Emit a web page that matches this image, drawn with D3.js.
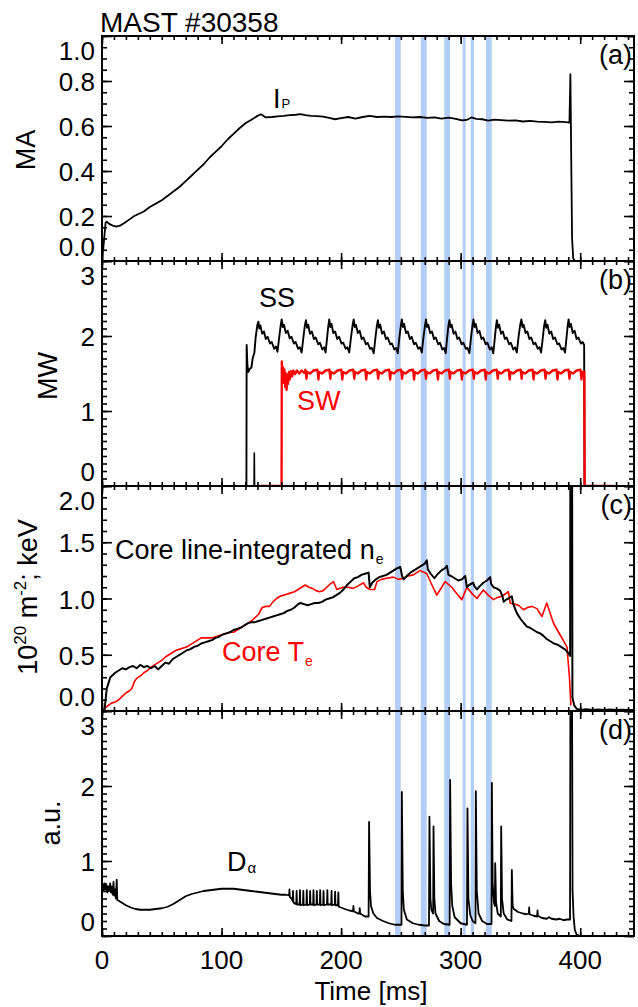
<!DOCTYPE html>
<html><head><meta charset="utf-8">
<script src="https://cdn.jsdelivr.net/npm/d3@7"></script>
<style>
body{margin:0;background:#fff}
svg{display:block}
text{font-family:"Liberation Sans",Arial,Helvetica,sans-serif;fill:#000}
</style>
</head><body>
<svg id="chart" width="638" height="1007"></svg>
<script>
// ---------------- DATA ----------------
const xDomain = [0, 445];
const xTickLabels = ["0", "100", "200", "300", "400"];
const xTickValues = [0, 100, 200, 300, 400];
const title = "MAST #30358";
const xTitle = "Time [ms]";
// highlighted time windows (ms)
const bands = [[245.1,249.9],[266.6,271.6],[286.3,291.1],[301.7,304.2],[308.4,311.2],[321.2,326]];

// (a) plasma current, MA
const ipData = [[0,0],[1.5,0.08],[3,0.17],[4,0.175],[6,0.165],[9,0.157],[12,0.153],[15,0.157],[19,0.17],[23,0.185],[27,0.2],[31,0.21],[35,0.22],[40,0.24],[45,0.255],[50,0.27],[55,0.29],[60,0.31],[65,0.33],[70,0.355],[75,0.38],[80,0.405],[85,0.43],[90,0.46],[95,0.485],[100,0.51],[105,0.54],[110,0.565],[115,0.59],[120,0.612],[125,0.628],[130,0.645],[133,0.652],[137,0.638],[142,0.64],[147,0.643],[152,0.645],[157,0.648],[162,0.65],[166,0.653],[170,0.648],[175,0.645],[180,0.644],[185,0.642],[190,0.636],[195,0.63],[200,0.635],[206,0.64],[212,0.633],[218,0.64],[224,0.645],[230,0.64],[236,0.642],[242,0.64],[248,0.643],[254,0.641],[260,0.638],[266,0.64],[272,0.636],[278,0.638],[284,0.633],[290,0.637],[296,0.632],[301,0.625],[305,0.627],[309,0.638],[313,0.632],[318,0.63],[323,0.624],[328,0.628],[334,0.626],[340,0.624],[346,0.625],[352,0.62],[358,0.623],[364,0.619],[370,0.618],[376,0.616],[382,0.619],[388,0.617],[391,0.615],[391.8,0.83],[392.4,0.5],[393.2,0.1],[394.2,0.01],[396,0],[445,0]];
const ipLabel = ["I", "P"];
const yTicksA = [0, 0.2, 0.4, 0.6, 0.8, 1.0];
const yLabelsA = ["0.0","0.2","0.4","0.6","0.8","1.0"];

// (b) heating power, MW
const ssData = [[0,0],[120.8,0],[121,1.88],[121.6,1.62],[122.3,1.52],[123.5,1.56],[125,1.58],[126,1.7],[127.5,1.78],[128.5,1.98],[130,2.15],[130.8,2.19],[131.6,2.1],[132.5,2.14],[134,2.03],[135.5,2.06],[137,1.96],[138.5,1.99],[140.5,1.9],[142,1.92],[144,1.83],[145.5,1.86],[146.8,1.79],
[148,1.95],[149.3,2.12],[150.3,2.22],[151.2,2.12],[152.2,2.15],[153.8,2.04],[155.3,2.07],[157,1.97],[158.5,1.99],[160.5,1.9],[162,1.92],[164,1.83],[165.5,1.85],[167,1.78],
[168.3,1.96],[169.6,2.13],[170.6,2.21],[171.5,2.11],[172.5,2.15],[174,2.03],[175.5,2.06],[177.3,1.96],[178.8,1.98],[180.8,1.89],[182.3,1.91],[184.3,1.82],[185.8,1.85],[187,1.78],
[188.2,1.96],[189.2,2.12],[190.1,2.22],[191,2.12],[192,2.16],[193.5,2.04],[195,2.06],[196.8,1.96],[198.3,1.99],[200.3,1.9],[201.8,1.91],[203.8,1.83],[205.3,1.85],[206.8,1.78],
[208.2,1.97],[209.5,2.13],[210.5,2.22],[211.4,2.12],[212.4,2.15],[214,2.04],[215.5,2.07],[217.2,1.96],[218.7,1.98],[220.7,1.89],[222.2,1.91],[224.2,1.83],[225.7,1.84],[227.3,1.77],
[228.6,1.96],[229.8,2.12],[230.8,2.21],[231.7,2.11],[232.7,2.15],[234.3,2.03],[235.8,2.06],[237.5,1.96],[239,1.98],[241,1.89],[242.5,1.9],[244.5,1.82],[246,1.84],[247.4,1.77],
[248.7,1.97],[249.9,2.13],[250.8,2.22],[251.7,2.12],[252.7,2.16],[254.3,2.04],[255.8,2.06],[257.5,1.96],[259,1.99],[261,1.89],[262.5,1.91],[264.5,1.83],[266,1.85],[267.5,1.78],
[268.8,1.97],[270,2.12],[271,2.22],[271.9,2.12],[272.9,2.15],[274.5,2.04],[276,2.06],[277.7,1.96],[279.2,1.98],[281.2,1.89],[282.7,1.91],[284.7,1.82],[286.2,1.84],[287.5,1.77],
[288.6,1.96],[289.7,2.13],[290.6,2.21],[291.5,2.12],[292.5,2.15],[294.1,2.03],[295.6,2.06],[297.3,1.96],[298.8,1.98],[300.8,1.89],[302.3,1.91],[304.3,1.83],[305.8,1.84],[307.3,1.77],
[308.6,1.97],[309.8,2.13],[310.7,2.22],[311.6,2.12],[312.6,2.16],[314.2,2.04],[315.7,2.07],[317.4,1.96],[318.9,1.98],[320.9,1.89],[322.4,1.91],[324.4,1.82],[325.9,1.85],[327.3,1.77],
[328.5,1.96],[329.5,2.12],[330.3,2.21],[331.2,2.11],[332.2,2.15],[333.8,2.03],[335.3,2.06],[337,1.96],[338.5,1.98],[340.5,1.89],[342,1.91],[344,1.82],[345.5,1.85],[347,1.78],
[348.3,1.97],[349.6,2.13],[350.8,2.22],[351.7,2.12],[352.7,2.15],[354.3,2.04],[355.8,2.06],[357.5,1.96],[359,1.98],[361,1.89],[362.5,1.91],[364.5,1.83],[366,1.85],[367.3,1.78],
[368.6,1.96],[369.7,2.12],[370.7,2.21],[371.6,2.11],[372.6,2.15],[374.2,2.03],[375.7,2.06],[377.4,1.96],[378.9,1.98],[380.9,1.89],[382.4,1.9],[384.4,1.82],[385.9,1.84],[387.3,1.78],
[388.5,1.97],[389.5,2.13],[390.3,2.22],[391.2,2.12],[392.2,2.16],[393.8,2.04],[395.3,2.07],[397,1.96],[398.5,1.98],[400.5,1.9],[402,1.92],[403.3,1.88],[403.6,0],[445,0]];
const ssBlip = [[127.2,0],[127.4,0.44],[127.6,0]];
const swData = [[131,0],[150.2,0],[150.4,1.66],[151,1.45],[151.5,1.58],[152,1.38],[152.6,1.55],[153.2,1.32],[153.8,1.5],[154.4,1.28],[155,1.48],[155.6,1.36],[156.3,1.52],[157,1.42],[158,1.53],[159,1.46],[160,1.54],[161.5,1.49],[163,1.54],[165,1.5],[167,1.54],[169,1.51],
[170.2,1.55],[171,1.43],[171.7,1.52],[174,1.5],[177,1.54],[180.2,1.55],[181,1.42],[181.7,1.52],[184,1.5],[187,1.54],
[190.2,1.55],[191,1.43],[191.7,1.52],[194,1.5],[197,1.54],[200.2,1.55],[201,1.42],[201.7,1.52],[204,1.5],[207,1.54],
[210.2,1.55],[211,1.43],[211.7,1.52],[214,1.5],[217,1.54],[220.2,1.55],[221,1.42],[221.7,1.52],[224,1.5],[227,1.54],
[230.2,1.55],[231,1.43],[231.7,1.52],[234,1.5],[237,1.54],[240.2,1.55],[241,1.42],[241.7,1.52],[244,1.5],[247,1.54],
[250.2,1.55],[251,1.43],[251.7,1.52],[254,1.5],[257,1.54],[260.2,1.55],[261,1.42],[261.7,1.52],[264,1.5],[267,1.54],
[270.2,1.55],[271,1.43],[271.7,1.52],[274,1.5],[277,1.54],[280.2,1.55],[281,1.42],[281.7,1.52],[284,1.5],[287,1.54],
[290.2,1.55],[291,1.43],[291.7,1.52],[294,1.5],[297,1.54],[300.2,1.55],[301,1.42],[301.7,1.52],[304,1.5],[307,1.54],
[310.2,1.55],[311,1.43],[311.7,1.52],[314,1.5],[317,1.54],[320.2,1.55],[321,1.42],[321.7,1.52],[324,1.5],[327,1.54],
[330.2,1.55],[331,1.43],[331.7,1.52],[334,1.5],[337,1.54],[340.2,1.55],[341,1.42],[341.7,1.52],[344,1.5],[347,1.54],
[350.2,1.55],[351,1.43],[351.7,1.52],[354,1.5],[357,1.54],[360.2,1.55],[361,1.42],[361.7,1.52],[364,1.5],[367,1.54],
[370.2,1.55],[371,1.43],[371.7,1.52],[374,1.5],[377,1.54],[380.2,1.55],[381,1.42],[381.7,1.52],[384,1.5],[387,1.54],
[390.2,1.55],[391,1.43],[391.7,1.52],[394,1.5],[397,1.54],[400.2,1.55],[401,1.42],[401.7,1.52],[403.5,1.52],[403.7,0],[428,0]];
const yTicksB = [0, 1, 2, 3];
const yLabelsB = ["0","1","2","3"];

// (c) core line-integrated density (1e20 m^-2) and core Te (keV)
const neData = [[2,0],[3,0.1],[4,0.2],[5.5,0.25],[7,0.3],[9,0.32],[11,0.34],[14,0.36],[17,0.38],[20,0.37],[23,0.39],[26,0.4],[29,0.38],[32,0.41],[35,0.39],[38,0.4],[41,0.38],[44,0.4],[47,0.37],[50,0.4],[53,0.43],[56,0.42],[59,0.46],[62,0.48],[65,0.5],[68,0.52],[71,0.54],[74,0.55],[77,0.57],[80,0.58],[83,0.6],[86,0.61],[89,0.62],[92,0.63],[95,0.65],[98,0.66],[101,0.68],[104,0.69],[107,0.7],[110,0.72],[113,0.73],[116,0.74],[119,0.76],[122,0.78],[125,0.79],[128,0.79],[131,0.8],[134,0.81],[137,0.82],[140,0.83],[143,0.84],[146,0.85],[149,0.86],[152,0.87],[155,0.89],[158,0.9],[161,0.92],[164,0.95],[166,0.96],[169,0.95],[172,0.94],[175,0.95],[178,0.96],[181,0.96],[184,0.97],[187,0.99],[190,1.0],[193,1.01],[196,1.03],[199,1.05],[202,1.08],[205,1.12],[208,1.15],[211,1.18],[214,1.19],[217,1.21],[220,1.22],[223,1.23],[224,1.1],[226,1.14],[229,1.17],[232,1.19],[235,1.2],[238,1.21],[241,1.23],[244,1.25],[247,1.27],[249.5,1.28],[251,1.2],[252.3,1.17],[255,1.2],[258,1.23],[261,1.25],[264,1.27],[267,1.29],[270,1.31],[271.7,1.34],[272.5,1.26],[275,1.22],[278,1.18],[281,1.22],[284,1.25],[287,1.27],[288.5,1.29],[289.8,1.21],[292,1.2],[295,1.18],[298,1.16],[301,1.17],[303.8,1.2],[305.2,1.1],[307,1.12],[310.5,1.14],[311.5,1.11],[313.6,1.08],[316,1.11],[319,1.14],[322,1.16],[324.7,1.19],[325.5,1.13],[327.5,1.1],[330,1.09],[333,1.07],[335,1.02],[336,0.97],[338,0.99],[340,1.0],[342.8,1.02],[344,0.95],[347,0.87],[350,0.82],[353,0.78],[355.4,0.75],[358,0.74],[361,0.72],[364,0.7],[366.5,0.69],[369,0.67],[372,0.64],[375,0.62],[378,0.6],[381,0.59],[384,0.57],[387,0.55],[389,0.53],[391.6,0.49],[391.8,2.3],[393.2,2.3],[393.5,0.12],[395,0.05],[397,0.02],[400,0.01],[405,0.015],[410,0.008],[415,0.014],[420,0.008],[425,0.013],[430,0.009],[435,0.012],[440,0.008],[445,0.01]];
const teData = [[0.5,0],[4,0.04],[8,0.07],[11,0.08],[14,0.1],[17,0.13],[20,0.16],[23,0.18],[25,0.2],[27,0.26],[29,0.29],[32,0.31],[35,0.34],[38,0.36],[41,0.39],[44,0.41],[47,0.43],[50,0.45],[53,0.48],[56,0.5],[59,0.52],[62,0.54],[65,0.55],[68,0.56],[71,0.57],[74,0.59],[77,0.61],[80,0.63],[83,0.65],[86,0.65],[89,0.65],[92,0.65],[95,0.66],[98,0.67],[101,0.68],[104,0.69],[107,0.7],[110,0.7],[113,0.72],[116,0.74],[119,0.76],[122,0.78],[125,0.8],[128,0.83],[131,0.86],[134,0.92],[137,0.93],[140,0.93],[143,0.97],[146,1.0],[149,1.02],[152,1.03],[155,1.04],[158,1.05],[161,1.06],[164,1.08],[167,1.1],[170,1.12],[173,1.1],[176,1.09],[179,1.07],[182,1.06],[185,1.07],[188,1.1],[191,1.13],[193.6,1.15],[196.4,1.08],[199,1.09],[202,1.1],[206,1.1],[210,1.09],[214,1.11],[218.7,1.14],[221,1.1],[224,1.08],[228,1.08],[230,1.15],[234,1.17],[238,1.18],[243.8,1.19],[248,1.17],[252,1.18],[256,1.2],[260.5,1.21],[266,1.25],[271.7,1.22],[276,1.12],[280,1.03],[283,1.08],[287,1.15],[292.6,1.1],[297,1.04],[301,0.99],[305.2,1.1],[309,1.05],[313.6,1.0],[319,1.076],[323,1.03],[327.5,0.99],[331,1.01],[334.5,1.02],[340,1.06],[341.4,0.96],[345,0.95],[348.4,0.94],[352.5,0.9],[356,0.92],[359.6,0.93],[363.8,0.91],[368,0.84],[372,0.96],[377.7,0.78],[383,0.68],[388.9,0.57],[391,0.3],[392.2,0.05]];
const yTicksC = [0, 0.5, 1.0, 1.5, 2.0];
const yLabelsC = ["0.0","0.5","1.0","1.5","2.0"];

// (d) D-alpha, a.u.
const daData = [[0,0.62],[0.8,0.68],[1.5,0.6],[2.3,0.7],[3,0.62],[3.8,0.68],[4.5,0.58],[5.3,0.66],[6,0.6],[6.8,0.7],[7.5,0.58],[8.3,0.66],[9,0.55],[9.6,0.72],[10.2,0.54],[11,0.62],[11.6,0.5],[12.3,0.75],[12.8,0.48],[14,0.47],[17,0.44],[20,0.41],[24,0.38],[28,0.36],[32,0.35],[36,0.35],[40,0.35],[45,0.36],[50,0.37],[55,0.39],[60,0.43],[65,0.48],[70,0.53],[75,0.56],[80,0.58],[85,0.6],[90,0.61],[95,0.62],[100,0.63],[105,0.63],[110,0.63],[115,0.62],[120,0.61],[125,0.6],[130,0.59],[135,0.58],[140,0.57],[145,0.56],[150,0.55],[154,0.55],
[156.5,0.54],[156.8,0.62],[157.1,0.52],[158.5,0.5],[159.5,0.47],[159.8,0.6],[160.1,0.45],[161.5,0.43],[162.5,0.43],[162.8,0.6],[163.1,0.42],[165.3,0.42],[165.6,0.61],[165.9,0.41],[168.1,0.42],[168.4,0.6],[168.7,0.41],[171,0.42],[171.3,0.61],[171.6,0.41],[173.8,0.42],[174.1,0.6],[174.4,0.42],[176.6,0.42],[176.9,0.61],[177.2,0.41],[179.4,0.42],[179.7,0.6],[180,0.42],[182.2,0.42],[182.5,0.61],[182.8,0.41],[185,0.42],[185.3,0.6],[185.6,0.41],[188.2,0.42],[188.5,0.61],[188.8,0.42],[191.7,0.42],[192,0.6],[192.3,0.41],[194.7,0.42],[195,0.59],[195.3,0.41],[197.4,0.41],[197.7,0.58],[198,0.39],
[200,0.38],[203,0.36],[207,0.34],[210,0.33],[210.3,0.4],[210.6,0.33],[214,0.3],[215.3,0.3],[215.6,0.37],[215.9,0.3],[220,0.26],[223,0.26],[223.4,1.52],[224.2,0.6],[225,0.4],[227,0.3],[230,0.24],[235,0.2],[240,0.17],[245,0.15],[250.5,0.15],[250.8,1.92],[251.6,0.6],[252.5,0.35],[255,0.22],[260,0.17],[265,0.15],[270,0.14],[273.5,0.14],[273.9,1.59],[274.7,0.5],[275.5,0.35],[277,0.3],[277.3,1.46],[278,0.5],[279,0.3],[282,0.2],[286,0.16],[290.8,0.15],[291.2,2.08],[292,0.7],[293,0.4],[295,0.25],[300,0.17],[305.3,0.15],[305.7,1.7],[306.5,0.5],[308,0.28],[310,0.2],[312.4,0.17],[312.7,1.93],[313.5,0.6],[315,0.3],[318,0.2],[322,0.16],[325.8,0.16],[326.1,2.04],[326.8,0.7],[327.8,0.45],[328.6,0.4],[328.9,0.97],[329.6,0.45],[331,0.3],[333.6,0.26],[333.9,1.46],[334.6,0.5],[336,0.3],[339,0.22],[342.5,0.2],[342.8,0.88],[343.5,0.4],[344.5,0.36],[348,0.32],[352,0.3],[355,0.29],[357,0.3],[357.3,0.38],[357.6,0.29],[361,0.27],[364,0.26],[364.3,0.34],[364.6,0.27],[368,0.24],[372,0.23],[374,0.25],[376,0.23],[380,0.22],[383,0.23],[386,0.21],[389,0.22],[391.5,0.22],[391.8,3.2],[393.2,3.2],[393.6,0.6],[394.5,0.25],[395.5,0.08],[397,0.02],[400,0],[445,0]];
const yTicksD = [0, 1, 2, 3];
const yLabelsD = ["0","1","2","3"];

// ---------------- LAYOUT ----------------
const svg = d3.select("#chart");
const L = 102, R = 634, PH = 225;
const tops = [36, 261, 486, 711];
const x = d3.scaleLinear().domain(xDomain).range([L, R]);
const FONT = 27;
const TICKFONT = 26;

const panels = [
  {top: tops[0], dom: [0, 1.0], ticks: yTicksA, labels: yLabelsA, minorStep: 0.05, tag: "(a)"},
  {top: tops[1], dom: [0, 3], ticks: yTicksB, labels: yLabelsB, minorStep: 0.1, tag: "(b)"},
  {top: tops[2], dom: [0, 2.0], ticks: yTicksC, labels: yLabelsC, minorStep: 0.1, tag: "(c)"},
  {top: tops[3], dom: [0, 3], ticks: yTicksD, labels: yLabelsD, minorStep: 0.1, tag: "(d)"}
];
panels.forEach((p, i) => {
  p.y = d3.scaleLinear().domain(p.dom).range([p.top + PH, p.top]);
  svg.append("clipPath").attr("id", "clip" + i)
    .append("rect").attr("x", L).attr("y", p.top).attr("width", R - L).attr("height", PH);
});

// blue bands
svg.append("g").selectAll("rect").data(bands).join("rect")
  .attr("x", d => x(d[0])).attr("width", d => x(d[1]) - x(d[0]))
  .attr("y", tops[0]).attr("height", tops[3] + PH - tops[0])
  .attr("fill", "#b4cdf7");

// data lines
function drawLine(pi, data, color, width) {
  const p = panels[pi];
  const line = d3.line().x(d => x(d[0])).y(d => p.y(d[1]));
  svg.append("path").datum(data).attr("d", line)
    .attr("fill", "none").attr("stroke", color).attr("stroke-width", width)
    .attr("stroke-linejoin", "round").attr("clip-path", `url(#clip${pi})`);
}
drawLine(0, ipData, "#000", 1.8);
drawLine(1, ssBlip, "#000", 1.6);
drawLine(1, ssData, "#000", 1.9);
drawLine(1, swData, "#ff0000", 2.3);
drawLine(2, teData, "#ff0000", 1.6);
drawLine(2, neData, "#000", 2.0);
drawLine(3, daData, "#000", 1.8);

// axes
const xMinor = d3.range(0, 446, 10);
panels.forEach((p, i) => {
  const g = svg.append("g").attr("stroke-width", 1.6);
  const bottom = p.top + PH;
  const mk = (axis, tx, ty) => g.append("g").attr("transform", `translate(${tx},${ty})`).call(axis)
    .call(s => s.select(".domain").remove())
    .call(s => s.selectAll("line").attr("stroke", "#000").attr("stroke-width", 1.6));
  mk(d3.axisBottom(x).tickValues(xMinor).tickSize(-4).tickFormat(""), 0, bottom);
  mk(d3.axisBottom(x).tickValues(xTickValues).tickSize(-8).tickFormat(""), 0, bottom);
  mk(d3.axisTop(x).tickValues(xMinor).tickSize(-4).tickFormat(""), 0, p.top);
  mk(d3.axisTop(x).tickValues(xTickValues).tickSize(-8).tickFormat(""), 0, p.top);
  const yMinor = d3.range(p.dom[0], p.dom[1] + 1e-9, p.minorStep);
  mk(d3.axisLeft(p.y).tickValues(yMinor).tickSize(-5).tickFormat(""), L, 0);
  mk(d3.axisLeft(p.y).tickValues(p.ticks).tickSize(-10).tickFormat(""), L, 0);
  mk(d3.axisRight(p.y).tickValues(yMinor).tickSize(-5).tickFormat(""), R, 0);
  mk(d3.axisRight(p.y).tickValues(p.ticks).tickSize(-10).tickFormat(""), R, 0);
  g.append("rect").attr("x", L).attr("y", p.top).attr("width", R - L).attr("height", PH)
    .attr("fill", "none").attr("stroke", "#000").attr("stroke-width", 2);
  // y tick labels (end labels pulled inside the panel so neighbours don't collide)
  const n = p.ticks.length;
  svg.append("g").selectAll("text").data(p.ticks).join("text")
    .attr("x", 95).attr("text-anchor", "end").attr("font-size", TICKFONT)
    .attr("y", (d, k) => k === 0 ? p.y(d) - 5 : (k === n - 1 ? p.y(d) + 24 : p.y(d) + 10))
    .text((d, k) => p.labels[k]);
  // panel tag
  svg.append("text").attr("x", 632).attr("y", p.top + 28).attr("text-anchor", "end")
    .attr("font-size", FONT).text(p.tag);
});

// x tick labels
svg.append("g").selectAll("text").data(xTickValues).join("text")
  .attr("x", d => x(d)).attr("y", 969).attr("text-anchor", "middle")
  .attr("font-size", TICKFONT).text((d, i) => xTickLabels[i]);
svg.append("text").attr("x", (L + R) / 2 + 3).attr("y", 1000).attr("text-anchor", "middle")
  .attr("font-size", 26).text(xTitle);

// title
svg.append("text").attr("x", 100).attr("y", 32).attr("font-size", 28).text(title);

// y axis titles
function yTitle(cx, cy, build) {
  const t = svg.append("text").attr("transform", `translate(${cx},${cy}) rotate(-90)`)
    .attr("text-anchor", "middle").attr("font-size", FONT);
  build(t);
}
yTitle(35, 150, t => t.text("MA"));
yTitle(57, 376, t => t.text("MW"));
yTitle(37, 597, t => {
  t.append("tspan").text("10");
  t.append("tspan").attr("font-size", 17).attr("dy", -11).text("20");
  t.append("tspan").attr("dy", 11).text(" m");
  t.append("tspan").attr("font-size", 17).attr("dy", -11).text("-2");
  t.append("tspan").attr("dy", 11).text("; keV");
});
yTitle(60, 823, t => t.text("a.u."));

// in-plot labels
const ip = svg.append("text").attr("x", 273).attr("y", 108).attr("font-size", FONT);
ip.append("tspan").text(ipLabel[0]);
ip.append("tspan").attr("font-size", 13).attr("dx", 1).text(ipLabel[1]);

svg.append("text").attr("x", 259).attr("y", 307).attr("font-size", FONT).text("SS");
svg.append("text").attr("x", 297).attr("y", 410).attr("font-size", FONT)
  .style("fill", "#ff0000").text("SW");

const ne = svg.append("text").attr("x", 115).attr("y", 559).attr("font-size", FONT);
ne.append("tspan").text("Core line-integrated n");
ne.append("tspan").attr("font-size", 14).attr("dy", 5).attr("dx", 1).text("e");

const te = svg.append("text").attr("x", 222).attr("y", 661).attr("font-size", FONT).style("fill", "#ff0000");
te.append("tspan").style("fill", "#ff0000").text("Core T");
te.append("tspan").style("fill", "#ff0000").attr("font-size", 14).attr("dy", 5).attr("dx", 1).text("e");

const da = svg.append("text").attr("x", 227).attr("y", 871).attr("font-size", FONT);
da.append("tspan").text("D");
da.append("tspan").attr("font-size", 15).attr("dy", 2).attr("dx", 1).text("α");
</script>
</body></html>
